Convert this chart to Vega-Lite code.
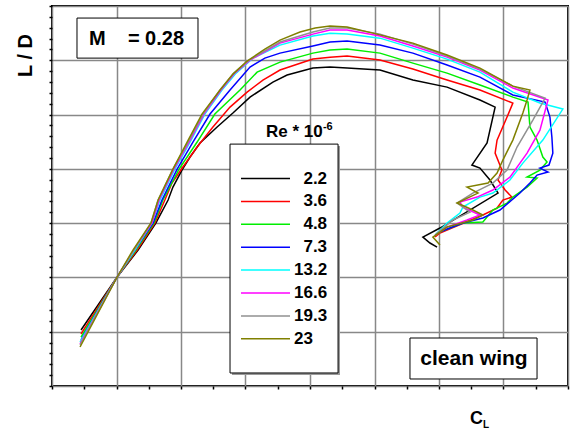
{
  "$schema": "https://vega.github.io/schema/vega-lite/v6.json",
  "width": 516,
  "height": 380,
  "autosize": "none",
  "padding": {"left": 52, "top": 6, "right": 5, "bottom": 44},
  "background": "#ffffff",
  "config": {
    "font": "Liberation Sans",
    "view": {"stroke": "#000000", "strokeWidth": 2},
    "text": {"font": "Liberation Sans", "fontWeight": "bold", "color": "#000000"}
  },
  "resolve": {"axis": {"x": "independent", "y": "independent"}},
  "layer": [
    {
      "data": {"values": [{"a": 1}]},
      "mark": {"type": "rect", "fill": "#9a9a9a", "stroke": null},
      "encoding": {
        "x": {"datum": 0.558, "type": "quantitative",
          "scale": {"domain": [0, 1.6], "nice": false, "zero": false},
          "axis": {"orient": "bottom", "values": [0.1,0.3,0.5,0.7,0.9,1.1,1.3,1.5], "tickCount": 100, "labels": false, "domain": false, "grid": false,
                   "ticks": true, "tickColor": "#000000", "tickSize": 3, "tickWidth": 1.5, "title": null}},
        "x2": {"datum": 0.893},
        "y": {"datum": 22.1, "type": "quantitative",
          "scale": {"domain": [0, 35], "nice": false, "zero": false},
          "axis": {"orient": "left", "values": [1,2,3,4,6,7,8,9,11,12,13,14,16,17,18,19,21,22,23,24,26,27,28,29,31,32,33,34], "tickCount": 100, "labels": false, "domain": false, "grid": false,
                   "ticks": true, "tickColor": "#000000", "tickSize": 3, "tickWidth": 1.5, "title": null}},
        "y2": {"datum": 1.02}
      }
    },
    {
      "data": {"values": [
        {"x1": 0.552, "x2": 0.887, "y1": 22.28, "y2": 1.2},
        {"x1": 0.0775, "x2": 0.4527, "y1": 33.89, "y2": 30.2},
        {"x1": 1.11, "x2": 1.504, "y1": 4.42, "y2": 0.645}
      ]},
      "mark": {"type": "rect", "fill": "#ffffff", "stroke": "#000000", "strokeWidth": 1},
      "encoding": {
        "x": {"field": "x1", "type": "quantitative", "axis": null},
        "x2": {"field": "x2"},
        "y": {"field": "y1", "type": "quantitative", "axis": null},
        "y2": {"field": "y2"}
      }
    },
    {
      "data": {"values": [
{"Re":2.2,"CL":0.090,"LD":5.16},{"Re":2.2,"CL":0.202,"LD":10.04},{"Re":2.2,"CL":0.267,"LD":12.52},{"Re":2.2,"CL":0.322,"LD":15.01},{"Re":2.2,"CL":0.360,"LD":17.13},{"Re":2.2,"CL":0.375,"LD":18.32},{"Re":2.2,"CL":0.403,"LD":19.89},{"Re":2.2,"CL":0.428,"LD":21.09},{"Re":2.2,"CL":0.459,"LD":22.38},{"Re":2.2,"CL":0.512,"LD":23.85},{"Re":2.2,"CL":0.561,"LD":25.14},{"Re":2.2,"CL":0.614,"LD":26.61},{"Re":2.2,"CL":0.685,"LD":27.99},{"Re":2.2,"CL":0.729,"LD":28.64},{"Re":2.2,"CL":0.809,"LD":29.28},{"Re":2.2,"CL":0.862,"LD":29.37},{"Re":2.2,"CL":0.915,"LD":29.28},{"Re":2.2,"CL":1.017,"LD":29.10},{"Re":2.2,"CL":1.119,"LD":28.18},{"Re":2.2,"CL":1.225,"LD":27.53},{"Re":2.2,"CL":1.327,"LD":26.34},{"Re":2.2,"CL":1.374,"LD":25.69},{"Re":2.2,"CL":1.349,"LD":22.38},{"Re":2.2,"CL":1.302,"LD":20.35},{"Re":2.2,"CL":1.327,"LD":20.07},{"Re":2.2,"CL":1.358,"LD":18.97},{"Re":2.2,"CL":1.383,"LD":17.77},{"Re":2.2,"CL":1.203,"LD":14.55},{"Re":2.2,"CL":1.150,"LD":13.72},{"Re":2.2,"CL":1.172,"LD":13.17},{"Re":2.2,"CL":1.194,"LD":12.80},
{"Re":3.6,"CL":0.090,"LD":4.79},{"Re":3.6,"CL":0.202,"LD":10.04},{"Re":3.6,"CL":0.264,"LD":12.52},{"Re":3.6,"CL":0.319,"LD":15.01},{"Re":3.6,"CL":0.350,"LD":17.13},{"Re":3.6,"CL":0.372,"LD":18.69},{"Re":3.6,"CL":0.406,"LD":20.17},{"Re":3.6,"CL":0.450,"LD":22.01},{"Re":3.6,"CL":0.499,"LD":23.85},{"Re":3.6,"CL":0.552,"LD":25.69},{"Re":3.6,"CL":0.605,"LD":27.07},{"Re":3.6,"CL":0.654,"LD":28.18},{"Re":3.6,"CL":0.707,"LD":29.10},{"Re":3.6,"CL":0.809,"LD":30.11},{"Re":3.6,"CL":0.862,"LD":30.29},{"Re":3.6,"CL":0.915,"LD":30.39},{"Re":3.6,"CL":1.017,"LD":30.02},{"Re":3.6,"CL":1.119,"LD":29.19},{"Re":3.6,"CL":1.225,"LD":28.18},{"Re":3.6,"CL":1.327,"LD":27.26},{"Re":3.6,"CL":1.429,"LD":26.06},{"Re":3.6,"CL":1.411,"LD":24.77},{"Re":3.6,"CL":1.380,"LD":22.65},{"Re":3.6,"CL":1.374,"LD":21.45},{"Re":3.6,"CL":1.395,"LD":19.89},{"Re":3.6,"CL":1.383,"LD":18.97},{"Re":3.6,"CL":1.405,"LD":18.05},{"Re":3.6,"CL":1.426,"LD":17.40},{"Re":3.6,"CL":1.398,"LD":17.13},{"Re":3.6,"CL":1.380,"LD":16.39},{"Re":3.6,"CL":1.336,"LD":15.75},{"Re":3.6,"CL":1.203,"LD":14.09},{"Re":3.6,"CL":1.188,"LD":13.72},
{"Re":4.8,"CL":0.090,"LD":4.51},{"Re":4.8,"CL":0.202,"LD":10.04},{"Re":4.8,"CL":0.260,"LD":12.52},{"Re":4.8,"CL":0.316,"LD":15.01},{"Re":4.8,"CL":0.344,"LD":17.13},{"Re":4.8,"CL":0.394,"LD":19.98},{"Re":4.8,"CL":0.450,"LD":22.47},{"Re":4.8,"CL":0.505,"LD":25.05},{"Re":4.8,"CL":0.583,"LD":27.26},{"Re":4.8,"CL":0.636,"LD":28.91},{"Re":4.8,"CL":0.707,"LD":29.83},{"Re":4.8,"CL":0.809,"LD":30.66},{"Re":4.8,"CL":0.862,"LD":30.94},{"Re":4.8,"CL":0.915,"LD":31.03},{"Re":4.8,"CL":1.017,"LD":30.66},{"Re":4.8,"CL":1.119,"LD":29.74},{"Re":4.8,"CL":1.225,"LD":28.82},{"Re":4.8,"CL":1.327,"LD":27.72},{"Re":4.8,"CL":1.429,"LD":26.61},{"Re":4.8,"CL":1.476,"LD":26.15},{"Re":4.8,"CL":1.482,"LD":23.85},{"Re":4.8,"CL":1.504,"LD":22.65},{"Re":4.8,"CL":1.522,"LD":21.09},{"Re":4.8,"CL":1.535,"LD":20.63},{"Re":4.8,"CL":1.513,"LD":19.89},{"Re":4.8,"CL":1.473,"LD":19.24},{"Re":4.8,"CL":1.504,"LD":19.15},{"Re":4.8,"CL":1.473,"LD":18.32},{"Re":4.8,"CL":1.429,"LD":17.40},{"Re":4.8,"CL":1.411,"LD":16.85},{"Re":4.8,"CL":1.367,"LD":16.21},{"Re":4.8,"CL":1.336,"LD":15.10},{"Re":4.8,"CL":1.274,"LD":15.01},{"Re":4.8,"CL":1.194,"LD":14.09},
{"Re":7.3,"CL":0.090,"LD":4.24},{"Re":7.3,"CL":0.202,"LD":10.04},{"Re":7.3,"CL":0.257,"LD":12.52},{"Re":7.3,"CL":0.313,"LD":15.01},{"Re":7.3,"CL":0.341,"LD":17.13},{"Re":7.3,"CL":0.388,"LD":19.98},{"Re":7.3,"CL":0.437,"LD":22.47},{"Re":7.3,"CL":0.490,"LD":25.05},{"Re":7.3,"CL":0.552,"LD":27.26},{"Re":7.3,"CL":0.614,"LD":29.37},{"Re":7.3,"CL":0.660,"LD":30.20},{"Re":7.3,"CL":0.707,"LD":30.66},{"Re":7.3,"CL":0.809,"LD":31.31},{"Re":7.3,"CL":0.862,"LD":31.68},{"Re":7.3,"CL":0.915,"LD":31.77},{"Re":7.3,"CL":1.017,"LD":31.40},{"Re":7.3,"CL":1.119,"LD":30.66},{"Re":7.3,"CL":1.225,"LD":29.56},{"Re":7.3,"CL":1.327,"LD":28.45},{"Re":7.3,"CL":1.429,"LD":26.80},{"Re":7.3,"CL":1.529,"LD":26.15},{"Re":7.3,"CL":1.544,"LD":24.77},{"Re":7.3,"CL":1.550,"LD":22.93},{"Re":7.3,"CL":1.553,"LD":21.45},{"Re":7.3,"CL":1.541,"LD":20.35},{"Re":7.3,"CL":1.513,"LD":20.07},{"Re":7.3,"CL":1.538,"LD":19.71},{"Re":7.3,"CL":1.504,"LD":19.43},{"Re":7.3,"CL":1.482,"LD":18.69},{"Re":7.3,"CL":1.451,"LD":17.77},{"Re":7.3,"CL":1.389,"LD":16.21},{"Re":7.3,"CL":1.336,"LD":15.47},{"Re":7.3,"CL":1.274,"LD":15.01},{"Re":7.3,"CL":1.194,"LD":14.09},
{"Re":13.2,"CL":0.087,"LD":4.05},{"Re":13.2,"CL":0.202,"LD":10.04},{"Re":13.2,"CL":0.257,"LD":12.52},{"Re":13.2,"CL":0.310,"LD":15.01},{"Re":13.2,"CL":0.335,"LD":17.13},{"Re":13.2,"CL":0.381,"LD":19.98},{"Re":13.2,"CL":0.428,"LD":22.47},{"Re":13.2,"CL":0.474,"LD":25.05},{"Re":13.2,"CL":0.527,"LD":27.26},{"Re":13.2,"CL":0.571,"LD":28.82},{"Re":13.2,"CL":0.623,"LD":30.20},{"Re":13.2,"CL":0.707,"LD":31.40},{"Re":13.2,"CL":0.809,"LD":32.23},{"Re":13.2,"CL":0.862,"LD":32.50},{"Re":13.2,"CL":0.915,"LD":32.41},{"Re":13.2,"CL":1.017,"LD":32.04},{"Re":13.2,"CL":1.119,"LD":31.12},{"Re":13.2,"CL":1.225,"LD":30.11},{"Re":13.2,"CL":1.327,"LD":28.91},{"Re":13.2,"CL":1.429,"LD":27.07},{"Re":13.2,"CL":1.513,"LD":26.06},{"Re":13.2,"CL":1.584,"LD":25.51},{"Re":13.2,"CL":1.522,"LD":22.65},{"Re":13.2,"CL":1.460,"LD":20.53},{"Re":13.2,"CL":1.420,"LD":18.97},{"Re":13.2,"CL":1.367,"LD":17.77},{"Re":13.2,"CL":1.327,"LD":17.40},{"Re":13.2,"CL":1.274,"LD":16.48},{"Re":13.2,"CL":1.265,"LD":15.93},{"Re":13.2,"CL":1.225,"LD":15.01},{"Re":13.2,"CL":1.188,"LD":13.90},
{"Re":16.6,"CL":0.087,"LD":3.87},{"Re":16.6,"CL":0.202,"LD":10.04},{"Re":16.6,"CL":0.254,"LD":12.52},{"Re":16.6,"CL":0.310,"LD":15.01},{"Re":16.6,"CL":0.332,"LD":17.13},{"Re":16.6,"CL":0.378,"LD":19.98},{"Re":16.6,"CL":0.425,"LD":22.47},{"Re":16.6,"CL":0.471,"LD":25.05},{"Re":16.6,"CL":0.524,"LD":27.26},{"Re":16.6,"CL":0.567,"LD":28.82},{"Re":16.6,"CL":0.614,"LD":30.02},{"Re":16.6,"CL":0.707,"LD":31.58},{"Re":16.6,"CL":0.809,"LD":32.41},{"Re":16.6,"CL":0.862,"LD":32.78},{"Re":16.6,"CL":0.915,"LD":32.78},{"Re":16.6,"CL":1.017,"LD":32.23},{"Re":16.6,"CL":1.119,"LD":31.31},{"Re":16.6,"CL":1.225,"LD":30.29},{"Re":16.6,"CL":1.327,"LD":29.10},{"Re":16.6,"CL":1.429,"LD":27.44},{"Re":16.6,"CL":1.538,"LD":26.34},{"Re":16.6,"CL":1.513,"LD":23.57},{"Re":16.6,"CL":1.473,"LD":21.45},{"Re":16.6,"CL":1.420,"LD":19.24},{"Re":16.6,"CL":1.367,"LD":18.05},{"Re":16.6,"CL":1.318,"LD":17.40},{"Re":16.6,"CL":1.265,"LD":16.94},{"Re":16.6,"CL":1.274,"LD":16.48},{"Re":16.6,"CL":1.327,"LD":15.75},{"Re":16.6,"CL":1.287,"LD":15.29},{"Re":16.6,"CL":1.225,"LD":14.64},{"Re":16.6,"CL":1.188,"LD":13.90},
{"Re":19.3,"CL":0.087,"LD":3.78},{"Re":19.3,"CL":0.202,"LD":10.04},{"Re":19.3,"CL":0.254,"LD":12.52},{"Re":19.3,"CL":0.307,"LD":15.01},{"Re":19.3,"CL":0.329,"LD":17.13},{"Re":19.3,"CL":0.375,"LD":19.98},{"Re":19.3,"CL":0.422,"LD":22.47},{"Re":19.3,"CL":0.468,"LD":25.05},{"Re":19.3,"CL":0.521,"LD":27.26},{"Re":19.3,"CL":0.564,"LD":28.82},{"Re":19.3,"CL":0.611,"LD":30.02},{"Re":19.3,"CL":0.707,"LD":31.68},{"Re":19.3,"CL":0.809,"LD":32.60},{"Re":19.3,"CL":0.862,"LD":32.97},{"Re":19.3,"CL":0.915,"LD":32.97},{"Re":19.3,"CL":1.017,"LD":32.41},{"Re":19.3,"CL":1.119,"LD":31.49},{"Re":19.3,"CL":1.225,"LD":30.39},{"Re":19.3,"CL":1.327,"LD":29.19},{"Re":19.3,"CL":1.429,"LD":27.62},{"Re":19.3,"CL":1.529,"LD":26.52},{"Re":19.3,"CL":1.491,"LD":24.49},{"Re":19.3,"CL":1.442,"LD":22.01},{"Re":19.3,"CL":1.411,"LD":19.89},{"Re":19.3,"CL":1.367,"LD":18.69},{"Re":19.3,"CL":1.305,"LD":17.77},{"Re":19.3,"CL":1.256,"LD":16.85},{"Re":19.3,"CL":1.296,"LD":16.02},{"Re":19.3,"CL":1.243,"LD":15.29},{"Re":19.3,"CL":1.188,"LD":13.90},
{"Re":23,"CL":0.087,"LD":3.59},{"Re":23,"CL":0.202,"LD":10.04},{"Re":23,"CL":0.251,"LD":12.52},{"Re":23,"CL":0.307,"LD":15.01},{"Re":23,"CL":0.329,"LD":17.13},{"Re":23,"CL":0.375,"LD":19.98},{"Re":23,"CL":0.419,"LD":22.47},{"Re":23,"CL":0.465,"LD":25.05},{"Re":23,"CL":0.521,"LD":27.26},{"Re":23,"CL":0.561,"LD":28.73},{"Re":23,"CL":0.605,"LD":29.93},{"Re":23,"CL":0.660,"LD":31.03},{"Re":23,"CL":0.707,"LD":31.86},{"Re":23,"CL":0.769,"LD":32.60},{"Re":23,"CL":0.816,"LD":32.97},{"Re":23,"CL":0.862,"LD":33.15},{"Re":23,"CL":0.915,"LD":33.06},{"Re":23,"CL":0.995,"LD":32.50},{"Re":23,"CL":1.119,"LD":31.58},{"Re":23,"CL":1.225,"LD":30.48},{"Re":23,"CL":1.327,"LD":29.28},{"Re":23,"CL":1.429,"LD":27.62},{"Re":23,"CL":1.482,"LD":27.26},{"Re":23,"CL":1.473,"LD":26.34},{"Re":23,"CL":1.460,"LD":25.14},{"Re":23,"CL":1.429,"LD":22.65},{"Re":23,"CL":1.398,"LD":20.81},{"Re":23,"CL":1.380,"LD":19.61},{"Re":23,"CL":1.352,"LD":18.69},{"Re":23,"CL":1.287,"LD":18.32},{"Re":23,"CL":1.321,"LD":17.77},{"Re":23,"CL":1.256,"LD":16.85},{"Re":23,"CL":1.305,"LD":16.21},{"Re":23,"CL":1.336,"LD":15.75},{"Re":23,"CL":1.305,"LD":15.29},{"Re":23,"CL":1.225,"LD":14.64},{"Re":23,"CL":1.181,"LD":13.72},{"Re":23,"CL":1.203,"LD":12.98}
      ]},
      "transform": [{"window": [{"op": "row_number", "as": "i"}]}],
      "mark": {"type": "line", "strokeWidth": 1.5},
      "encoding": {
        "x": {
          "field": "CL", "type": "quantitative",
          "axis": {
            "orient": "bottom",
            "values": [0,0.2,0.4,0.6,0.8,1.0,1.2,1.4,1.6], "tickCount": 100,
            "labels": false, "domain": false,
            "grid": true, "gridColor": "#888888", "gridWidth": 1.5,
            "ticks": true, "tickColor": "#000000", "tickSize": 3, "tickWidth": 1.5,
            "title": "C", "titleFont": "Liberation Sans", "titleFontSize": 18, "titleFontWeight": "bold", "titleColor": "#000000",
            "titleX": 424, "titleY": 37, "titleAlign": "center", "titleBaseline": "alphabetic"
          }
        },
        "y": {
          "field": "LD", "type": "quantitative",
          "axis": {
            "orient": "left",
            "values": [0,5,10,15,20,25,30,35], "tickCount": 100,
            "labels": false, "domain": false,
            "grid": true, "gridColor": "#888888", "gridWidth": 1.5,
            "ticks": true, "tickColor": "#000000", "tickSize": 3, "tickWidth": 1.5,
            "title": "L / D", "titleFont": "Liberation Sans", "titleFontSize": 20, "titleFontWeight": "bold", "titleColor": "#000000",
            "titleAngle": -90, "titleX": -27, "titleY": 49, "titleAlign": "center", "titleBaseline": "middle"
          }
        },
        "color": {
          "field": "Re", "type": "nominal",
          "scale": {"domain": [2.2,3.6,4.8,7.3,13.2,16.6,19.3,23], "range": ["#000000","#ff0000","#00ee00","#0000ff","#00ffff","#ff00ff","#909090","#808000"]},
          "legend": {
            "orient": "none", "legendX": 205, "legendY": 164, "title": null,
            "symbolType": "M-4,0H4", "symbolSize": 150, "symbolStrokeWidth": 1.5,
            "labelFont": "Liberation Sans", "labelFontSize": 17, "labelFontWeight": "bold", "labelColor": "#000000",
            "labelAlign": "left", "labelOffset": 20, "rowPadding": 4.9, "padding": 0,
            "labelExpr": "datum.value < 10 ? '\u200b\u00a0\u00a0' + datum.label : datum.label"
          }
        },
        "order": {"field": "i", "type": "quantitative"}
      }
    },
    {
      "data": {"values": [{"t": "M\u00a0\u00a0\u00a0\u00a0= 0.28"}]},
      "mark": {"type": "text", "fontSize": 20, "align": "left", "baseline": "alphabetic"},
      "encoding": {
        "x": {"datum": 0.1147, "type": "quantitative", "axis": null},
        "y": {"datum": 31.4, "type": "quantitative", "axis": null},
        "text": {"field": "t"}
      }
    },
    {
      "data": {"values": [{"t": "clean wing"}]},
      "mark": {"type": "text", "fontSize": 21, "align": "center", "baseline": "alphabetic"},
      "encoding": {
        "x": {"datum": 1.3085, "type": "quantitative", "axis": null},
        "y": {"datum": 1.93, "type": "quantitative", "axis": null},
        "text": {"field": "t"}
      }
    },
    {
      "data": {"values": [{"t": "Re * 10"}]},
      "mark": {"type": "text", "fontSize": 17, "align": "left", "baseline": "alphabetic"},
      "encoding": {
        "x": {"datum": 0.6636, "type": "quantitative", "axis": null},
        "y": {"datum": 22.93, "type": "quantitative", "axis": null},
        "text": {"field": "t"}
      }
    },
    {
      "data": {"values": [{"t": "-6"}]},
      "mark": {"type": "text", "fontSize": 11, "align": "left", "baseline": "alphabetic"},
      "encoding": {
        "x": {"datum": 0.84, "type": "quantitative", "axis": null},
        "y": {"datum": 23.57, "type": "quantitative", "axis": null},
        "text": {"field": "t"}
      }
    },
    {
      "data": {"values": [{"t": "L"}]},
      "mark": {"type": "text", "fontSize": 10, "align": "center", "baseline": "alphabetic"},
      "encoding": {
        "x": {"datum": 1.346, "type": "quantitative", "axis": null},
        "y": {"datum": -3.87, "type": "quantitative", "axis": null},
        "text": {"field": "t"}
      }
    }
  ]
}
